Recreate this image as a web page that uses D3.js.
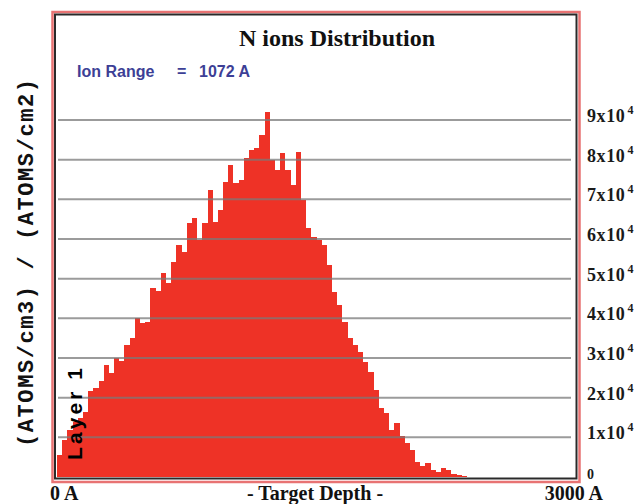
<!DOCTYPE html>
<html>
<head>
<meta charset="utf-8">
<script src="https://cdn.jsdelivr.net/npm/d3@7"></script>
<style>
  html, body { margin: 0; padding: 0; background: #fff; }
  svg { display: block; }
</style>
</head>
<body>
<svg id="chart" width="638" height="504"></svg>
<script>
// ---- data ----
const title = "N ions Distribution";
const ionRangeLabel = "Ion Range";
const ionRangeValue = "1072 A";
const yTitle = "(ATOMS/cm3) / (ATOMS/cm2)";
const layerLabel = "Layer 1";
const xTitle = "- Target Depth -";
const xTickLabels = ["0 A", "3000 A"];
const xDomain = [0, 3000];
const binWidthA = 30; // Angstrom per histogram bin
const yTickValues = [0, 10000, 20000, 30000, 40000, 50000, 60000, 70000, 80000, 90000];
const yTickMantissa = ["0", "1x10", "2x10", "3x10", "4x10", "5x10", "6x10", "7x10", "8x10", "9x10"];
const yTickExponent = ["", "4", "4", "4", "4", "4", "4", "4", "4", "4"];
// ion concentration per bin (atoms/cm3 per atoms/cm2), bins of 30 A starting at 0 A
const concentration = [
  5500, 9300, 11800, 13900, 14900, 16400, 21700, 22400, 24200, 28200,
  26200, 30000, 29200, 33300, 35000, 40100, 38800, 39000, 47600, 46900,
  51400, 48900, 54200, 58500, 56700, 64000, 65300, 59700, 64000, 72300,
  64300, 67300, 74400, 78600, 74100, 74900, 80400, 82400, 82900, 86200,
  92000, 79900, 77400, 81700, 77400, 73600, 81900, 69800, 62800, 60500,
  59700, 58500, 53400, 46600, 43400, 39100, 35000, 33300, 31500, 29000,
  26500, 21900, 17400, 16100, 11800, 13600, 10300, 8600, 6800, 3800,
  2800, 3500, 1800, 1300, 2300, 1800, 800, 400, 300, 0,
  0, 0, 0, 0, 0, 0, 0, 0, 0, 0,
  0, 0, 0, 0, 0, 0, 0, 0, 0, 0
];

// ---- drawing ----
const svg = d3.select("#chart");
const plot = { left: 57, right: 576, top: 120, bottom: 477 };

const x = d3.scaleLinear().domain(xDomain).range([plot.left, plot.right]);
const y = d3.scaleLinear().domain([0, 90000]).range([plot.bottom, plot.top]);

// outer frame
svg.append("rect")
  .attr("x", 52.5).attr("y", 12).attr("width", 527).attr("height", 470)
  .attr("fill", "#fff").attr("stroke", "#e87373").attr("stroke-width", 2.5);
svg.append("rect")
  .attr("x", 55).attr("y", 14.5).attr("width", 521.5).attr("height", 464)
  .attr("fill", "#fff").attr("stroke", "#2a2a2a").attr("stroke-width", 2);

// histogram
const bins = concentration.map((v, i) => ({ x0: i * binWidthA, v }));
bins.push({ x0: bins.length * binWidthA, v: 0 });
const area = d3.area()
  .x(d => x(d.x0))
  .y0(y(0))
  .y1(d => y(d.v))
  .curve(d3.curveStepAfter);
svg.append("path")
  .datum(bins)
  .attr("d", area)
  .attr("shape-rendering", "crispEdges")
  .attr("fill", "#ee3226");

// gridlines (drawn over the fill)
svg.append("g")
  .selectAll("line")
  .data(yTickValues.filter(v => v > 0))
  .join("line")
  .attr("x1", 58).attr("x2", 571)
  .attr("y1", d => y(d)).attr("y2", d => y(d))
  .attr("stroke", "#7a7a7a").attr("stroke-opacity", 0.75).attr("stroke-width", 2);

// right tick labels
const yLab = svg.append("g")
  .attr("font-family", "'Liberation Serif', 'Times New Roman', serif")
  .attr("font-weight", "bold")
  .attr("fill", "#1a1a1a");
yTickValues.forEach((v, i) => {
  const t = yLab.append("text")
    .attr("x", 587).attr("y", y(v) + 2)
    .attr("font-size", i === 0 ? 14 : 18)
    .attr("letter-spacing", i === 0 ? 0 : 0.6);
  t.append("tspan").text(yTickMantissa[i]);
  if (yTickExponent[i]) {
    t.append("tspan").attr("dx", 2).attr("dy", -8).attr("font-size", 12).text(yTickExponent[i]);
  }
});

// title
svg.append("text")
  .attr("x", 337).attr("y", 46)
  .attr("text-anchor", "middle")
  .attr("font-family", "'Liberation Serif', 'Times New Roman', serif")
  .attr("font-weight", "bold").attr("font-size", 24)
  .attr("fill", "#111")
  .text(title);

// ion range
const ir = svg.append("text")
  .attr("y", 77)
  .attr("font-family", "'Liberation Sans', Arial, sans-serif")
  .attr("font-weight", "bold").attr("font-size", 16)
  .attr("fill", "#3d3f96");
ir.append("tspan").attr("x", 77).text(ionRangeLabel);
ir.append("tspan").attr("x", 177).text("=");
ir.append("tspan").attr("x", 199).text(ionRangeValue);

// y title
svg.append("text")
  .attr("transform", "translate(33,263) rotate(-90)")
  .attr("text-anchor", "middle")
  .attr("font-family", "'Liberation Mono', 'Courier New', monospace")
  .attr("font-weight", "bold").attr("font-size", 22)
  .attr("textLength", 368).attr("lengthAdjust", "spacing")
  .attr("fill", "#111")
  .text(yTitle);

// layer label
svg.append("text")
  .attr("transform", "translate(82,460) rotate(-90)")
  .attr("font-family", "'Liberation Sans', Arial, sans-serif")
  .attr("font-weight", "bold").attr("font-size", 21)
  .attr("textLength", 92).attr("lengthAdjust", "spacing")
  .attr("fill", "#000")
  .text(layerLabel);

// x labels
const xl = svg.append("g")
  .attr("font-family", "'Liberation Serif', 'Times New Roman', serif")
  .attr("font-weight", "bold").attr("font-size", 20)
  .attr("fill", "#111");
xl.append("text").attr("x", 50).attr("y", 500).text(xTickLabels[0]);
xl.append("text").attr("x", 603).attr("y", 500).attr("text-anchor", "end").text(xTickLabels[1]);
xl.append("text").attr("x", 315).attr("y", 500).attr("text-anchor", "middle").text(xTitle);
</script>
</body>
</html>
